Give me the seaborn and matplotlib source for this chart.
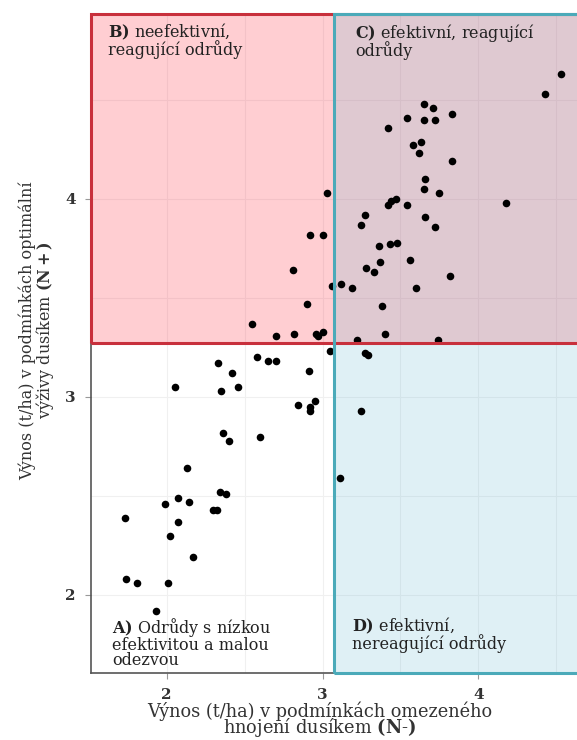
import numpy as np
import pandas as pd
import matplotlib
matplotlib.use("Agg")
import matplotlib.pyplot as plt
from matplotlib.patches import Rectangle
import seaborn as sns

# yields of the varieties (t/ha)
yield_n_minus = [4.53, 4.43, 3.65, 3.71, 3.83, 3.54, 3.65, 3.72, 3.42, 3.63,
                 3.58, 3.62, 3.83, 3.66, 3.65, 3.75, 3.03, 4.18, 3.42, 3.44,
                 3.47, 3.54, 3.27, 3.25, 3.66, 3.72, 2.92, 3.00, 3.36, 3.43,
                 3.48, 3.56, 3.37, 3.28, 3.33, 3.82, 2.81, 3.06, 3.12, 3.19,
                 3.60, 2.90, 3.38, 2.55, 2.70, 2.82, 2.96, 3.00, 2.97, 3.40,
                 3.22, 3.74, 3.05, 3.27, 3.29, 2.58, 2.65, 2.70, 2.33, 2.42,
                 2.91, 2.05, 2.35, 2.46, 2.84, 2.92, 2.95, 2.92, 3.25, 2.36,
                 2.40, 2.60, 3.11, 2.13, 2.34, 2.38, 2.07, 2.14, 1.99, 2.30,
                 2.32, 1.73, 2.07, 2.02, 2.17, 1.74, 1.81, 2.01, 1.93]
yield_n_plus = [4.63, 4.53, 4.48, 4.46, 4.43, 4.41, 4.40, 4.40, 4.36, 4.29,
                4.27, 4.23, 4.19, 4.10, 4.05, 4.03, 4.03, 3.98, 3.97, 3.99,
                4.00, 3.97, 3.92, 3.87, 3.91, 3.86, 3.82, 3.82, 3.76, 3.77,
                3.78, 3.69, 3.68, 3.65, 3.63, 3.61, 3.64, 3.56, 3.57, 3.55,
                3.55, 3.47, 3.46, 3.37, 3.31, 3.32, 3.32, 3.33, 3.31, 3.32,
                3.29, 3.29, 3.23, 3.22, 3.21, 3.20, 3.18, 3.18, 3.17, 3.12,
                3.13, 3.05, 3.03, 3.05, 2.96, 2.95, 2.98, 2.93, 2.93, 2.82,
                2.78, 2.80, 2.59, 2.64, 2.52, 2.51, 2.49, 2.47, 2.46, 2.43,
                2.43, 2.39, 2.37, 2.30, 2.19, 2.08, 2.06, 2.06, 1.92]

x_threshold = 3.074
y_threshold = 3.273
x_ticks = [2, 3, 4]
y_ticks = [2, 3, 4]

labels_quadrant = {
    "A": r"$\mathbf{A)}$ Odrůdy s nízkou" + "\nefektivitou a malou\nodezvou",
    "B": r"$\mathbf{B)}$ neefektivní," + "\nreagující odrůdy",
    "C": r"$\mathbf{C)}$ efektivní, reagující" + "\nodrůdy",
    "D": r"$\mathbf{D)}$ efektivní," + "\nnereagující odrůdy",
}

df = pd.DataFrame({"n_minus": yield_n_minus, "n_plus": yield_n_plus})

sns.set_theme(style="white")
plt.rcParams["font.family"] = ["DejaVu Serif"]
plt.rcParams["mathtext.fontset"] = "dejavuserif"

fig = plt.figure(figsize=(5.77, 7.40), dpi=100)
ax = fig.add_axes([91 / 577, 67 / 740, 502 / 577, 659 / 740])

xmin, xmax = 1.514, 4.736
ymin, ymax = 1.606, 4.934
ax.set_xlim(xmin, xmax)
ax.set_ylim(ymin, ymax)

# faint grid
ax.set_xticks([2.5, 3.5, 4.5], minor=True)
ax.set_yticks([2.5, 3.5, 4.5], minor=True)
ax.grid(True, which="both", color="#F0F0F0", linewidth=0.8, zorder=0)
ax.set_axisbelow(True)

red_edge = "#C8303C"
teal_edge = "#4BAAB9"

# quadrant fills
ax.add_patch(Rectangle((xmin, y_threshold), xmax - xmin, ymax - y_threshold,
                       facecolor=(1.0, 0.2, 0.27, 0.24), edgecolor="none", zorder=1))
ax.add_patch(Rectangle((x_threshold, ymin), xmax - x_threshold, ymax - ymin,
                       facecolor=(0.39, 0.71, 0.82, 0.20), edgecolor="none", zorder=1))

sns.scatterplot(data=df, x="n_minus", y="n_plus", color="black", s=30,
                linewidth=0, ax=ax, zorder=2)

# quadrant borders on top
ax.add_patch(Rectangle((xmin, y_threshold), xmax - xmin, ymax - y_threshold,
                       fill=False, edgecolor=red_edge, linewidth=2.2,
                       zorder=3, clip_on=False))
ax.add_patch(Rectangle((x_threshold, ymin), xmax - x_threshold, ymax - ymin,
                       fill=False, edgecolor=teal_edge, linewidth=2.2,
                       zorder=4, clip_on=False))

txt_kw = dict(fontsize=11.5, color="#222222", va="top", ha="left",
              linespacing=0.85, zorder=5)
ax.text(1.623, 4.895, labels_quadrant["B"], **txt_kw)
ax.text(3.208, 4.895, labels_quadrant["C"], **txt_kw)
ax.text(1.649, 1.895, labels_quadrant["A"], **txt_kw)
ax.text(3.189, 1.895, labels_quadrant["D"], **txt_kw)

sns.despine(ax=ax, top=True, right=True)
for side in ["left", "bottom"]:
    ax.spines[side].set_color("#555555")
    ax.spines[side].set_linewidth(1.2)

ax.set_xticks(x_ticks)
ax.set_yticks(y_ticks)
ax.tick_params(axis="both", which="major", length=4, width=0.8, color="#999999",
               labelsize=11, labelcolor="#333333", pad=7, bottom=True, left=True)
ax.tick_params(axis="both", which="minor", length=0)
for lab in ax.get_xticklabels() + ax.get_yticklabels():
    lab.set_fontweight("bold")

ax.set_xlabel("Výnos (t/ha) v podmínkách omezeného\nhnojení dusíkem " + r"$\mathbf{(N}$-$\mathbf{)}$",
              fontsize=12.8, color="#333333", linespacing=0.68)
ax.set_ylabel("Výnos (t/ha) v podmínkách optimální\nvýživy dusíkem " + r"$\mathbf{(N+)}$",
              fontsize=11.5, color="#333333", linespacing=0.85)
ax.xaxis.set_label_coords(0.456, -0.044)
ax.yaxis.set_label_coords(-0.07, 0.52)

fig.savefig("out.png", dpi=100)
